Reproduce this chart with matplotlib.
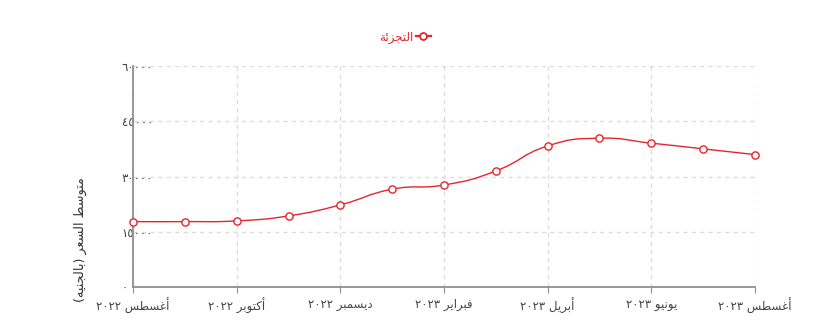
import numpy as np
import matplotlib
matplotlib.use('Agg')
import matplotlib.pyplot as plt
from matplotlib.path import Path
from matplotlib.patches import PathPatch
from matplotlib.lines import Line2D

plt.rcParams['font.family'] = ['DejaVu Sans', 'Noto Sans']

# data
months = ['أغسطس ٢٠٢٢', 'سبتمبر ٢٠٢٢', 'أكتوبر ٢٠٢٢', 'نوفمبر ٢٠٢٢', 'ديسمبر ٢٠٢٢',
          'يناير ٢٠٢٣', 'فبراير ٢٠٢٣', 'مارس ٢٠٢٣', 'أبريل ٢٠٢٣', 'مايو ٢٠٢٣',
          'يونيو ٢٠٢٣', 'يوليو ٢٠٢٣', 'أغسطس ٢٠٢٣']
retail = [17750, 17750, 17950, 19300, 22300, 26550, 27700, 31500,
          38300, 40400, 39050, 37500, 35950]
y_ticks = [0, 15000, 30000, 45000, 60000]
series_name = 'التجزئة'
y_title = 'متوسط السعر (بالجنيه)'

RED = '#e3262e'

# --- tiny arabic shaper (matplotlib draws glyphs LTR and unjoined) ---
FOUR = {'ب': 0xFE8F, 'ت': 0xFE95, 'ث': 0xFE99, 'ج': 0xFE9D, 'ح': 0xFEA1, 'خ': 0xFEA5,
        'س': 0xFEB1, 'ش': 0xFEB5, 'ص': 0xFEB9, 'ض': 0xFEBD, 'ط': 0xFEC1, 'ظ': 0xFEC5,
        'ع': 0xFEC9, 'غ': 0xFECD, 'ف': 0xFED1, 'ق': 0xFED5, 'ك': 0xFED9, 'ل': 0xFEDD,
        'م': 0xFEE1, 'ن': 0xFEE5, 'ه': 0xFEE9, 'ي': 0xFEF1, 'ئ': 0xFE89}
TWO = {'ا': 0xFE8D, 'أ': 0xFE83, 'إ': 0xFE87, 'آ': 0xFE81, 'ة': 0xFE93, 'د': 0xFEA9,
       'ذ': 0xFEAB, 'ر': 0xFEAD, 'ز': 0xFEAF, 'و': 0xFEED, 'ؤ': 0xFE85, 'ى': 0xFEEF}


def shape(s):
    out = []
    for i, c in enumerate(s):
        if c not in FOUR and c not in TWO:
            out.append(c)
            continue
        prev = s[i - 1] if i > 0 else ''
        nxt = s[i + 1] if i + 1 < len(s) else ''
        jp = prev in FOUR
        jn = c in FOUR and (nxt in FOUR or nxt in TWO)
        base = FOUR.get(c, TWO.get(c))
        if jp and jn:
            out.append(chr(base + 3))
        elif jn:
            out.append(chr(base + 2))
        elif jp:
            out.append(chr(base + 1))
        else:
            out.append(chr(base))
    shaped = ''.join(out)
    # visual order: reverse, keep digit runs LTR, mirror brackets
    runs, cur, isd = [], '', None
    for c in shaped:
        d = c.isdigit()
        if isd is None or d == isd:
            cur += c
        else:
            runs.append((cur, isd))
            cur = c
        isd = d
    runs.append((cur, isd))
    mirror = {'(': ')', ')': '('}
    vis = ''
    for txt, d in reversed(runs):
        vis += txt if d else ''.join(mirror.get(c, c) for c in reversed(txt))
    return vis


def ar_num(v):
    return str(v).translate(str.maketrans('0123456789', '٠١٢٣٤٥٦٧٨٩'))


fig = plt.figure(figsize=(8.2, 3.23), dpi=100)
ax = fig.add_axes([133 / 820, 1 - 287 / 323, 622 / 820, 221 / 323])

x = np.arange(len(months))
ax.set_xlim(0, len(months) - 1)
ax.set_ylim(0, 60000)

ax.set_xticks(x[::2])
ax.set_xticklabels([shape(m) for m in months[::2]])
ax.set_yticks(y_ticks)
ax.set_yticklabels([ar_num(v) for v in y_ticks])

for s in ['top', 'right']:
    ax.spines[s].set_visible(False)
for s in ['left', 'bottom']:
    ax.spines[s].set_color('#8f8f8f')
    ax.spines[s].set_linewidth(1.3)

ax.tick_params(axis='x', length=4, color='#8f8f8f', pad=4, labelsize=8.5, labelcolor='#444444')
ax.tick_params(axis='y', length=0, pad=8, labelsize=8.5, labelcolor='#444444')
for lab in ax.get_yticklabels():
    lab.set_horizontalalignment('left')

ax.grid(True, color='#dcdcdc', linestyle=(0, (3, 3)), linewidth=1)
ax.set_axisbelow(True)

# smooth line like the original (bezier through the points, control points in pixel space)
fig.canvas.draw()
pts = ax.transData.transform(np.column_stack([x, retail]))
smooth = 0.5
cps = []
for i in range(len(pts)):
    p = pts[i]
    pv = pts[i - 1] if i > 0 else p
    nx = pts[i + 1] if i + 1 < len(pts) else p
    v = nx - pv
    d0 = np.linalg.norm(p - pv)
    d1 = np.linalg.norm(nx - p)
    tot = d0 + d1
    if tot > 0:
        d0, d1 = d0 / tot, d1 / tot
    cps.append((p - v * d0 * smooth, p + v * d1 * smooth))
verts = [pts[0]]
codes = [Path.MOVETO]
for i in range(len(pts) - 1):
    verts += [cps[i][1], cps[i + 1][0], pts[i + 1]]
    codes += [Path.CURVE4] * 3
verts = ax.transData.inverted().transform(np.array(verts))
ax.add_patch(PathPatch(Path(verts, codes), facecolor='none', edgecolor=RED, lw=1.0, zorder=3))

ax.plot(x, retail, linestyle='none', marker='o', markersize=5.2, markerfacecolor='white',
        markeredgecolor=RED, markeredgewidth=1.0, zorder=4, clip_on=False)

# legend (symbol on the right, rtl)
handle = Line2D([], [], color=RED, lw=1.6, marker='o', markersize=5,
                markerfacecolor='white', markeredgecolor=RED, markeredgewidth=1.3)
fig.legend([handle], [shape(series_name)], loc='center', bbox_to_anchor=(405 / 820, 1 - 37 / 323),
           frameon=False, markerfirst=False, handlelength=1.3, handletextpad=0.2,
           fontsize=8.5, labelcolor=RED)

fig.text(80 / 820, 1 - 240 / 323, shape(y_title), rotation=90, ha='center', va='center',
         fontsize=9.2, color='#333333')

fig.savefig('out.png', dpi=100)
